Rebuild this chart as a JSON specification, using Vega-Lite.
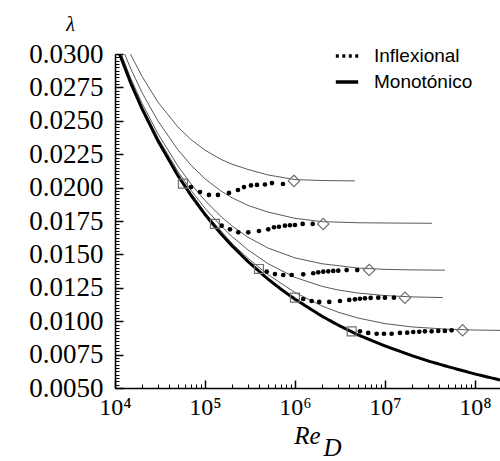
{
  "$schema": "https://vega.github.io/schema/vega-lite/v6.json",
  "width": 385,
  "height": 334,
  "autosize": {"type": "none"},
  "padding": {"left": 115, "top": 54, "right": 0, "bottom": 73},
  "background": "white",
  "config": {"view": {"stroke": null}},
  "datasets": {
    "thin": [
      {"curve": 1, "Re": 10000, "lam": 0.03265}, {"curve": 1, "Re": 15000, "lam": 0.02993}, {"curve": 1, "Re": 20000, "lam": 0.02832}, {"curve": 1, "Re": 30000, "lam": 0.0264}, {"curve": 1, "Re": 50000, "lam": 0.02454}, {"curve": 1, "Re": 70000, "lam": 0.02359}, {"curve": 1, "Re": 100000, "lam": 0.0228}, {"curve": 1, "Re": 150000, "lam": 0.02212}, {"curve": 1, "Re": 200000, "lam": 0.02175}, {"curve": 1, "Re": 300000, "lam": 0.02136}, {"curve": 1, "Re": 500000, "lam": 0.02095}, {"curve": 1, "Re": 1000000, "lam": 0.0206}, {"curve": 1, "Re": 2000000, "lam": 0.02053}, {"curve": 1, "Re": 4640000, "lam": 0.0205},
      {"curve": 2, "Re": 10000, "lam": 0.03177}, {"curve": 2, "Re": 15000, "lam": 0.02888}, {"curve": 2, "Re": 20000, "lam": 0.02711}, {"curve": 2, "Re": 30000, "lam": 0.02499}, {"curve": 2, "Re": 50000, "lam": 0.02283}, {"curve": 2, "Re": 70000, "lam": 0.02168}, {"curve": 2, "Re": 100000, "lam": 0.02066}, {"curve": 2, "Re": 150000, "lam": 0.01975}, {"curve": 2, "Re": 200000, "lam": 0.01924}, {"curve": 2, "Re": 300000, "lam": 0.01867}, {"curve": 2, "Re": 500000, "lam": 0.01817}, {"curve": 2, "Re": 1000000, "lam": 0.0177}, {"curve": 2, "Re": 2000000, "lam": 0.01745}, {"curve": 2, "Re": 5000000, "lam": 0.01737}, {"curve": 2, "Re": 10000000, "lam": 0.01735}, {"curve": 2, "Re": 33300000, "lam": 0.01733},
      {"curve": 3, "Re": 10000, "lam": 0.0312}, {"curve": 3, "Re": 15000, "lam": 0.02815}, {"curve": 3, "Re": 20000, "lam": 0.02631}, {"curve": 3, "Re": 30000, "lam": 0.02403}, {"curve": 3, "Re": 50000, "lam": 0.02162}, {"curve": 3, "Re": 70000, "lam": 0.02027}, {"curve": 3, "Re": 100000, "lam": 0.01903}, {"curve": 3, "Re": 150000, "lam": 0.01785}, {"curve": 3, "Re": 200000, "lam": 0.01713}, {"curve": 3, "Re": 300000, "lam": 0.01629}, {"curve": 3, "Re": 500000, "lam": 0.01548}, {"curve": 3, "Re": 1000000, "lam": 0.01474}, {"curve": 3, "Re": 2000000, "lam": 0.0143}, {"curve": 3, "Re": 5000000, "lam": 0.01398}, {"curve": 3, "Re": 10000000, "lam": 0.01388}, {"curve": 3, "Re": 20000000, "lam": 0.01384}, {"curve": 3, "Re": 46400000, "lam": 0.01382},
      {"curve": 4, "Re": 10000, "lam": 0.03101}, {"curve": 4, "Re": 15000, "lam": 0.02798}, {"curve": 4, "Re": 20000, "lam": 0.02607}, {"curve": 4, "Re": 30000, "lam": 0.02373}, {"curve": 4, "Re": 50000, "lam": 0.02121}, {"curve": 4, "Re": 70000, "lam": 0.01979}, {"curve": 4, "Re": 100000, "lam": 0.01846}, {"curve": 4, "Re": 150000, "lam": 0.01715}, {"curve": 4, "Re": 200000, "lam": 0.01633}, {"curve": 4, "Re": 300000, "lam": 0.01534}, {"curve": 4, "Re": 500000, "lam": 0.01431}, {"curve": 4, "Re": 1000000, "lam": 0.01328}, {"curve": 4, "Re": 2000000, "lam": 0.01261}, {"curve": 4, "Re": 3000000, "lam": 0.01234}, {"curve": 4, "Re": 5000000, "lam": 0.01211}, {"curve": 4, "Re": 10000000, "lam": 0.01192}, {"curve": 4, "Re": 20000000, "lam": 0.01182}, {"curve": 4, "Re": 44000000, "lam": 0.01177},
      {"curve": 5, "Re": 10000, "lam": 0.03091}, {"curve": 5, "Re": 15000, "lam": 0.02786}, {"curve": 5, "Re": 20000, "lam": 0.02594}, {"curve": 5, "Re": 30000, "lam": 0.02354}, {"curve": 5, "Re": 50000, "lam": 0.02097}, {"curve": 5, "Re": 100000, "lam": 0.01812}, {"curve": 5, "Re": 200000, "lam": 0.01582}, {"curve": 5, "Re": 300000, "lam": 0.01471}, {"curve": 5, "Re": 500000, "lam": 0.01349}, {"curve": 5, "Re": 1000000, "lam": 0.01215}, {"curve": 5, "Re": 2000000, "lam": 0.01114}, {"curve": 5, "Re": 3000000, "lam": 0.01068}, {"curve": 5, "Re": 5000000, "lam": 0.01024}, {"curve": 5, "Re": 10000000, "lam": 0.00982}, {"curve": 5, "Re": 20000000, "lam": 0.00957}, {"curve": 5, "Re": 50000000, "lam": 0.0094}, {"curve": 5, "Re": 100000000, "lam": 0.00934}, {"curve": 5, "Re": 200000000, "lam": 0.00931}
    ],
    "smooth": [
      {"series": "Monotónico", "Re": 10000, "lam": 0.03089}, {"series": "Monotónico", "Re": 15000, "lam": 0.0278}, {"series": "Monotónico", "Re": 20000, "lam": 0.02589}, {"series": "Monotónico", "Re": 30000, "lam": 0.0235}, {"series": "Monotónico", "Re": 50000, "lam": 0.0209}, {"series": "Monotónico", "Re": 70000, "lam": 0.01941}, {"series": "Monotónico", "Re": 100000, "lam": 0.01799}, {"series": "Monotónico", "Re": 150000, "lam": 0.01655}, {"series": "Monotónico", "Re": 200000, "lam": 0.01564}, {"series": "Monotónico", "Re": 300000, "lam": 0.01447}, {"series": "Monotónico", "Re": 500000, "lam": 0.01316}, {"series": "Monotónico", "Re": 700000, "lam": 0.01239}, {"series": "Monotónico", "Re": 1000000, "lam": 0.01165}, {"series": "Monotónico", "Re": 2000000, "lam": 0.01037}, {"series": "Monotónico", "Re": 3000000, "lam": 0.00972}, {"series": "Monotónico", "Re": 5000000, "lam": 0.00898}, {"series": "Monotónico", "Re": 10000000, "lam": 0.00815}, {"series": "Monotónico", "Re": 20000000, "lam": 0.00742}, {"series": "Monotónico", "Re": 30000000, "lam": 0.00703}, {"series": "Monotónico", "Re": 50000000, "lam": 0.0066}, {"series": "Monotónico", "Re": 100000000, "lam": 0.00605}, {"series": "Monotónico", "Re": 190000000, "lam": 0.0056}
    ],
    "dots": [
      {"curve": 1, "Re": 69900, "lam": 0.02004}, {"curve": 1, "Re": 88000, "lam": 0.01967}, {"curve": 1, "Re": 110700, "lam": 0.01945}, {"curve": 1, "Re": 139400, "lam": 0.01945}, {"curve": 1, "Re": 184800, "lam": 0.0196}, {"curve": 1, "Re": 232600, "lam": 0.01982}, {"curve": 1, "Re": 271300, "lam": 0.02004}, {"curve": 1, "Re": 324500, "lam": 0.02016}, {"curve": 1, "Re": 378400, "lam": 0.0202}, {"curve": 1, "Re": 464000, "lam": 0.02023}, {"curve": 1, "Re": 555000, "lam": 0.02034}, {"curve": 1, "Re": 736000, "lam": 0.02027},
      {"curve": 2, "Re": 153300, "lam": 0.01715}, {"curve": 2, "Re": 189600, "lam": 0.01688}, {"curve": 2, "Re": 234400, "lam": 0.01665}, {"curve": 2, "Re": 302800, "lam": 0.01665}, {"curve": 2, "Re": 398000, "lam": 0.01675}, {"curve": 2, "Re": 505000, "lam": 0.01688}, {"curve": 2, "Re": 585000, "lam": 0.01703}, {"curve": 2, "Re": 664000, "lam": 0.01707}, {"curve": 2, "Re": 774000, "lam": 0.01715}, {"curve": 2, "Re": 880000, "lam": 0.01718}, {"curve": 2, "Re": 1000000, "lam": 0.0172}, {"curve": 2, "Re": 1218000, "lam": 0.01728}, {"curve": 2, "Re": 1573000, "lam": 0.01728},
      {"curve": 3, "Re": 485000, "lam": 0.01371}, {"curve": 3, "Re": 599000, "lam": 0.01353}, {"curve": 3, "Re": 741000, "lam": 0.01346}, {"curve": 3, "Re": 919000, "lam": 0.01346}, {"curve": 3, "Re": 1237000, "lam": 0.01351}, {"curve": 3, "Re": 1597000, "lam": 0.01359}, {"curve": 3, "Re": 1815000, "lam": 0.01366}, {"curve": 3, "Re": 2063000, "lam": 0.01371}, {"curve": 3, "Re": 2344000, "lam": 0.01373}, {"curve": 3, "Re": 2665000, "lam": 0.01376}, {"curve": 3, "Re": 3028000, "lam": 0.01378}, {"curve": 3, "Re": 3753000, "lam": 0.01383}, {"curve": 3, "Re": 4920000, "lam": 0.01383},
      {"curve": 4, "Re": 1237000, "lam": 0.01166}, {"curve": 4, "Re": 1533000, "lam": 0.01151}, {"curve": 4, "Re": 1862000, "lam": 0.01144}, {"curve": 4, "Re": 2405000, "lam": 0.01144}, {"curve": 4, "Re": 3162000, "lam": 0.01151}, {"curve": 4, "Re": 4010000, "lam": 0.01159}, {"curve": 4, "Re": 4640000, "lam": 0.01164}, {"curve": 4, "Re": 5275000, "lam": 0.01168}, {"curve": 4, "Re": 5995000, "lam": 0.01171}, {"curve": 4, "Re": 6940000, "lam": 0.01174}, {"curve": 4, "Re": 8430000, "lam": 0.01176}, {"curve": 4, "Re": 10000000, "lam": 0.01176}, {"curve": 4, "Re": 12590000, "lam": 0.01176},
      {"curve": 5, "Re": 5275000, "lam": 0.00924}, {"curve": 5, "Re": 6520000, "lam": 0.00912}, {"curve": 5, "Re": 8090000, "lam": 0.00906}, {"curve": 5, "Re": 9750000, "lam": 0.00906}, {"curve": 5, "Re": 11870000, "lam": 0.00906}, {"curve": 5, "Re": 14680000, "lam": 0.00912}, {"curve": 5, "Re": 17690000, "lam": 0.00914}, {"curve": 5, "Re": 20630000, "lam": 0.00919}, {"curve": 5, "Re": 24050000, "lam": 0.00921}, {"curve": 5, "Re": 27830000, "lam": 0.00924}, {"curve": 5, "Re": 33030000, "lam": 0.00924}, {"curve": 5, "Re": 39100000, "lam": 0.00927}, {"curve": 5, "Re": 46400000, "lam": 0.00927}, {"curve": 5, "Re": 55100000, "lam": 0.00932}
    ],
    "squares": [
      {"Re": 56900, "lam": 0.0203}, {"Re": 129000, "lam": 0.01728}, {"Re": 398000, "lam": 0.01391}, {"Re": 1000000, "lam": 0.01176}, {"Re": 4270000, "lam": 0.00924}
    ],
    "diamonds": [
      {"Re": 975000, "lam": 0.0205}, {"Re": 2060000, "lam": 0.01728}, {"Re": 6690000, "lam": 0.01383}, {"Re": 16700000, "lam": 0.01176}, {"Re": 73000000, "lam": 0.00932}
    ]
  },
  "layer": [
    {
      "data": {"name": "thin"},
      "mark": {"type": "line", "clip": true, "color": "#5a5a5a", "strokeWidth": 1},
      "encoding": {
        "x": {"field": "Re", "type": "quantitative",
          "scale": {"type": "log", "domain": [10000, 190000000], "nice": false},
          "axis": {"orient": "bottom", "values": [10000, 100000, 1000000, 10000000, 100000000],
            "labelExpr": "'10' + ['⁰','¹','²','³','⁴','⁵','⁶','⁷','⁸','⁹'][round(log(datum.value)/LN10)]",
            "labelFont": "Liberation Serif", "labelFontSize": 24, "labelColor": "black", "labelPadding": 7, "labelDx": 5,
            "labelFlush": false, "labelOverlap": false, "ticks": false,
            "domainColor": "black", "domainWidth": 1.5, "grid": false,
            "title": "Re", "titleFont": "Liberation Serif", "titleFontStyle": "italic", "titleFontWeight": "normal",
            "titleFontSize": 25, "titleColor": "black", "titleX": 192, "titleY": 55, "titleAlign": "center", "titleBaseline": "alphabetic"}},
        "y": {"field": "lam", "type": "quantitative",
          "scale": {"domain": [0.005, 0.03], "nice": false, "zero": false},
          "axis": {"orient": "left", "values": [0.005, 0.0075, 0.01, 0.0125, 0.015, 0.0175, 0.02, 0.0225, 0.025, 0.0275, 0.03],
            "format": ".4f", "labelFont": "Liberation Serif", "labelFontSize": 27, "labelColor": "black", "labelPadding": 12,
            "labelOverlap": false, "labelFlush": false, "ticks": false,
            "domainColor": "black", "domainWidth": 1.5, "grid": false,
            "title": "λ", "titleFont": "Liberation Serif", "titleFontStyle": "italic", "titleFontWeight": "normal",
            "titleFontSize": 20, "titleColor": "black", "titleAngle": 0, "titleX": -45, "titleY": -24, "titleAlign": "center", "titleBaseline": "alphabetic"}},
        "detail": {"field": "curve", "type": "nominal"}
      }
    },
    {
      "data": {"name": "smooth"},
      "mark": {"type": "line", "clip": true, "color": "black", "strokeWidth": 3},
      "encoding": {
        "x": {"field": "Re", "type": "quantitative",
          "axis": {"orient": "top", "offset": -334, "values": [10000, 100000, 1000000, 10000000, 100000000],
            "labels": false, "domain": false, "grid": false, "ticks": true, "tickSize": 8, "tickColor": "black", "tickWidth": 1.5,
            "title": "D", "titleFont": "Liberation Serif", "titleFontStyle": "italic", "titleFontWeight": "normal",
            "titleFontSize": 25, "titleColor": "black", "titleX": 217, "titleY": 67, "titleAlign": "center", "titleBaseline": "alphabetic"}},
        "y": {"field": "lam", "type": "quantitative",
          "axis": {"orient": "right", "offset": -385, "values": [0.005, 0.0075, 0.01, 0.0125, 0.015, 0.0175, 0.02, 0.0225, 0.025, 0.0275, 0.03],
            "labels": false, "domain": false, "grid": false, "ticks": true, "tickSize": 8, "tickColor": "black", "tickWidth": 1.5, "title": null}},
        "strokeDash": {"field": "series", "type": "nominal",
          "scale": {"domain": ["Inflexional", "Monotónico"], "range": [[3, 3.5], [1, 0]]},
          "legend": {"title": null, "orient": "none", "legendX": 219, "legendY": -11, "padding": 0,
            "symbolType": "stroke", "symbolSize": 500, "symbolStrokeWidth": 3.5, "symbolStrokeColor": "black",
            "labelFont": "Liberation Sans", "labelFontSize": 19, "labelColor": "black", "labelOffset": 14, "rowPadding": 3}}
      }
    },
    {
      "data": {"name": "dots"},
      "mark": {"type": "point", "shape": "circle", "filled": true, "size": 22, "color": "black", "opacity": 1},
      "encoding": {
        "x": {"field": "Re", "type": "quantitative",
          "axis": {"orient": "top", "offset": -334, "values": [20000, 30000, 40000, 50000, 60000, 70000, 80000, 90000, 200000, 300000, 400000, 500000, 600000, 700000, 800000, 900000, 2000000, 3000000, 4000000, 5000000, 6000000, 7000000, 8000000, 9000000, 20000000, 30000000, 40000000, 50000000, 60000000, 70000000, 80000000, 90000000],
            "labels": false, "domain": false, "grid": false, "ticks": true, "tickSize": 4, "tickColor": "black", "tickWidth": 1, "title": null}},
        "y": {"field": "lam", "type": "quantitative",
          "axis": {"orient": "right", "offset": -385, "values": [0.00525,0.0055,0.00575,0.006,0.00625,0.0065,0.00675,0.007,0.00725,0.00775,0.008,0.00825,0.0085,0.00875,0.009,0.00925,0.0095,0.00975,0.01025,0.0105,0.01075,0.011,0.01125,0.0115,0.01175,0.012,0.01225,0.01275,0.013,0.01325,0.0135,0.01375,0.014,0.01425,0.0145,0.01475,0.01525,0.0155,0.01575,0.016,0.01625,0.0165,0.01675,0.017,0.01725,0.01775,0.018,0.01825,0.0185,0.01875,0.019,0.01925,0.0195,0.01975,0.02025,0.0205,0.02075,0.021,0.02125,0.0215,0.02175,0.022,0.02225,0.02275,0.023,0.02325,0.0235,0.02375,0.024,0.02425,0.0245,0.02475,0.02525,0.0255,0.02575,0.026,0.02625,0.0265,0.02675,0.027,0.02725,0.02775,0.028,0.02825,0.0285,0.02875,0.029,0.02925,0.0295,0.02975],
            "labels": false, "domain": false, "grid": false, "ticks": true, "tickSize": 4, "tickColor": "black", "tickWidth": 1, "title": null}}
      }
    },
    {
      "data": {"name": "squares"},
      "mark": {"type": "point", "shape": "square", "filled": false, "size": 80, "stroke": "#707070", "strokeWidth": 1.2, "opacity": 1},
      "encoding": {
        "x": {"field": "Re", "type": "quantitative", "axis": null},
        "y": {"field": "lam", "type": "quantitative", "axis": null}
      }
    },
    {
      "data": {"name": "diamonds"},
      "mark": {"type": "point", "shape": "diamond", "filled": false, "size": 130, "stroke": "#707070", "strokeWidth": 1.2, "opacity": 1},
      "encoding": {
        "x": {"field": "Re", "type": "quantitative", "axis": null},
        "y": {"field": "lam", "type": "quantitative", "axis": null}
      }
    }
  ],
  "resolve": {"axis": {"x": "independent", "y": "independent"}}
}
